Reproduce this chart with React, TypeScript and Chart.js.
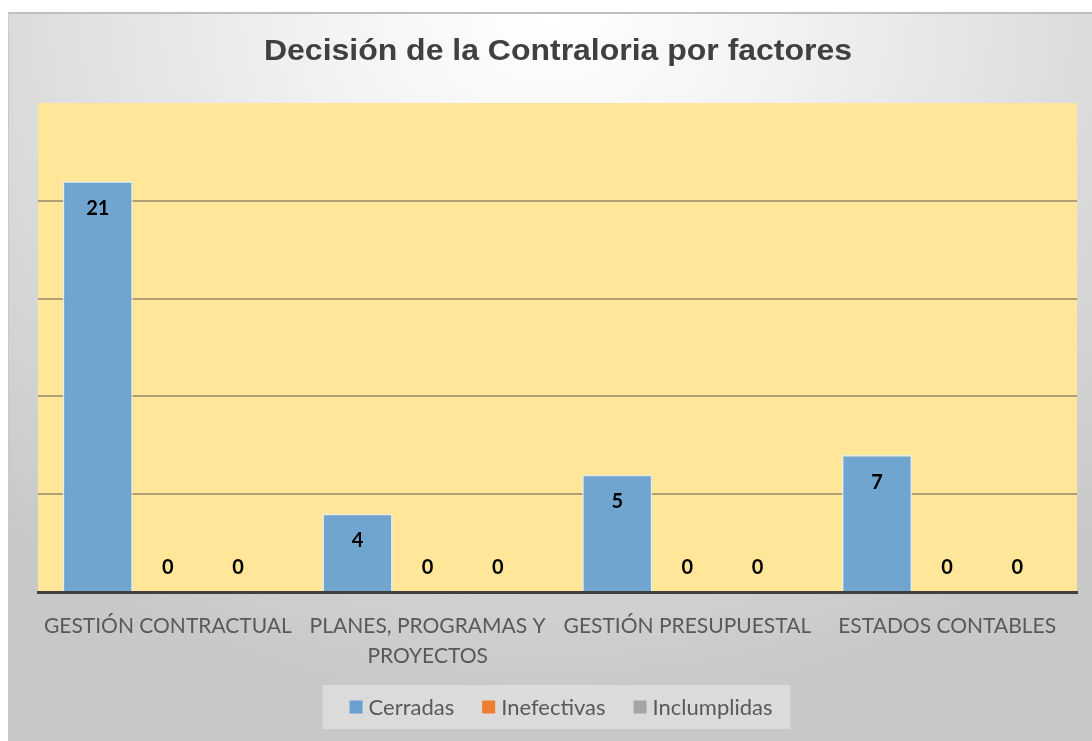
import React, { useEffect, useRef } from "react";
import { Chart, registerables } from "chart.js";

Chart.register(...registerables);

const TITLE = "Decisión de la Contraloria por factores";
const categories: (string | string[])[] = [
  "GESTIÓN CONTRACTUAL",
  ["PLANES, PROGRAMAS Y", "PROYECTOS"],
  "GESTIÓN PRESUPUESTAL",
  "ESTADOS CONTABLES",
];
const seriesNames = ["Cerradas", "Inefectivas", "Inclumplidas"];
// bar heights as drawn in the picture
const cerradas = [21, 4, 6, 7];
const inefectivas = [0, 0, 0, 0];
const inclumplidas = [0, 0, 0, 0];
// data labels as printed in the picture
const cerradasLabels = ["21", "4", "5", "7"];
const inefectivasLabels = ["0", "0", "0", "0"];
const inclumplidasLabels = ["0", "0", "0", "0"];
const seriesColors = ["#6FA5CF", "#ED7D31", "#A5A5A5"];
const legendColors = ["#6A9FD2", "#ED7D31", "#A5A5A5"];
const yMax = 25;
const yStep = 5;

const allLabels = [cerradasLabels, inefectivasLabels, inclumplidasLabels];

const plotBg = {
  id: "plotBg",
  beforeDraw(chart: any) {
    const { ctx, chartArea: a } = chart;
    ctx.save();
    ctx.fillStyle = "#FFE699";
    ctx.fillRect(a.left, a.top, a.right - a.left, a.bottom - a.top);
    ctx.restore();
  },
};

const titlePlugin = {
  id: "titleP",
  afterDraw(chart: any) {
    const { ctx } = chart;
    ctx.save();
    ctx.font = "bold 29px 'Liberation Sans', Arial, sans-serif";
    ctx.fillStyle = "#404040";
    ctx.textAlign = "center";
    ctx.textBaseline = "middle";
    const w = ctx.measureText(TITLE).width;
    const sx = 588 / w;
    ctx.translate(558, 52);
    ctx.scale(sx, 1);
    ctx.fillText(TITLE, 0, 0);
    ctx.restore();
  },
};

const labelsPlugin = {
  id: "valLabels",
  afterDatasetsDraw(chart: any) {
    const { ctx } = chart;
    ctx.save();
    ctx.font = "bold 20px Lato, 'Open Sans', sans-serif";
    ctx.fillStyle = "#000000";
    ctx.textAlign = "center";
    ctx.textBaseline = "middle";
    chart.data.datasets.forEach((ds: any, di: number) => {
      const meta = chart.getDatasetMeta(di);
      meta.data.forEach((el: any, i: number) => {
        const v = ds.data[i];
        const y = v > 0 ? el.y + 27 : el.base - 24;
        ctx.fillText(allLabels[di][i], el.x, y);
      });
    });
    ctx.restore();
  },
};

const legendPlugin = {
  id: "legendP",
  afterDraw(chart: any) {
    const { ctx } = chart;
    ctx.save();
    ctx.font = "22px Lato, 'Open Sans', sans-serif";
    const sq = 13;
    const gapSq = 6;
    const gapItem = 28;
    const widths = seriesNames.map((n) => sq + gapSq + ctx.measureText(n).width);
    const total = widths.reduce((a, b) => a + b, 0) + gapItem * (seriesNames.length - 1);
    const cx = 561;
    let x = cx - total / 2;
    const cy = 707;
    ctx.fillStyle = "rgba(255,255,255,0.35)";
    ctx.fillRect(x - 27, 685, total + 45, 44);
    ctx.textBaseline = "middle";
    ctx.textAlign = "left";
    seriesNames.forEach((n, i) => {
      ctx.fillStyle = legendColors[i];
      ctx.fillRect(x, cy - sq / 2, sq, sq);
      ctx.fillStyle = "#595959";
      ctx.fillText(n, x + sq + gapSq, cy + 1);
      x += widths[i] + gapItem;
    });
    ctx.restore();
  },
};

export default function App() {
  const ref = useRef<HTMLCanvasElement>(null);
  useEffect(() => {
    if (!ref.current) return;
    const chart = new Chart(ref.current, {
      type: "bar",
      data: {
        labels: categories,
        datasets: [cerradas, inefectivas, inclumplidas].map((d, i) => ({
          label: seriesNames[i],
          data: d,
          backgroundColor: seriesColors[i],
          borderColor: "rgba(225,238,250,0.9)",
          borderWidth: d.map((v) => (v > 0 ? 1.5 : 0)),
          categoryPercentage: 0.81,
          barPercentage: 1.0,
        })),
      },
      options: {
        animation: false,
        responsive: false,
        maintainAspectRatio: false,
        layout: { padding: { left: 38, right: 15, top: 103, bottom: 0 } },
        plugins: {
          legend: { display: false },
          title: { display: false },
          tooltip: { enabled: false },
        },
        scales: {
          x: {
            grid: { display: false, drawTicks: false },
            border: { display: true, color: "#404040", width: 3 },
            ticks: {
              color: "#595959",
              font: { family: "Lato, 'Open Sans', sans-serif", size: 21, lineHeight: 1.4 },
              padding: 20,
              maxRotation: 0,
              autoSkip: false,
            },
            afterFit(scale: any) {
              scale.height = 149;
            },
          },
          y: {
            min: 0,
            max: yMax,
            ticks: { display: false, stepSize: yStep },
            grid: {
              color: (c: any) => (c.tick && c.tick.value === yMax ? "rgba(0,0,0,0)" : "#AFA074"),
              lineWidth: 2,
              drawTicks: false,
            },
            border: { display: false },
            afterFit(scale: any) {
              scale.width = 0;
            },
          },
        },
      },
      plugins: [plotBg, labelsPlugin, titlePlugin, legendPlugin],
    });
    return () => chart.destroy();
  }, []);

  return (
    <div style={{ position: "fixed", left: 0, top: 0, width: 1092, height: 741, background: "#ffffff" }}>
      <div
        style={{
          position: "absolute",
          left: 8,
          top: 12,
          width: 1084,
          height: 729,
          borderTop: "2px solid #BFBFBF",
          borderLeft: "1px solid #C8C8C8",
          boxSizing: "border-box",
          background:
            "radial-gradient(ellipse 75% 95% at 50% 0%, #ffffff 0%, #f4f4f4 25%, #d9d9d9 70%, #c8c8c8 100%)",
        }}
      />
      <canvas ref={ref} width={1092} height={741} style={{ position: "absolute", left: 0, top: 0 }} />
    </div>
  );
}
